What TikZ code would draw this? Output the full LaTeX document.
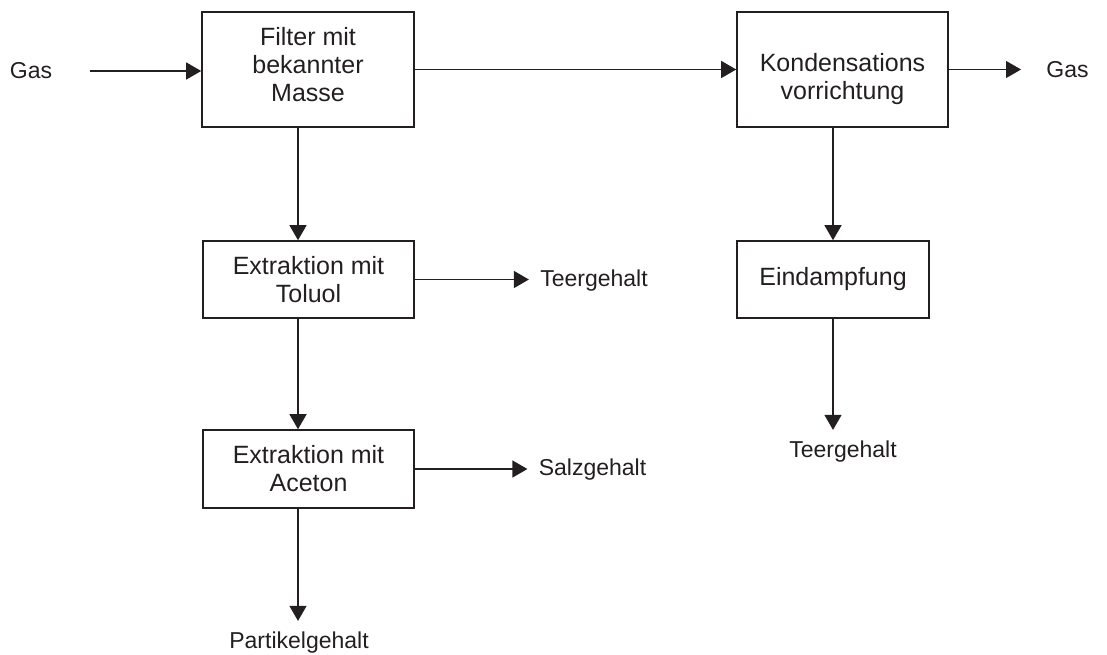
\documentclass[tikz,border=0pt]{standalone}
\usepackage{fontspec}
\setmainfont{Liberation Sans}
\usetikzlibrary{arrows.meta}
\definecolor{ink}{RGB}{35,31,32}

\begin{document}
\begin{tikzpicture}[x=0.5pt,y=-0.5pt,color=ink,
		box/.style={draw,line width=0.8pt,align=center,inner sep=0pt,
			font=\fontsize{12.5pt}{14pt}\selectfont},
		boxtext/.style={align=center,inner sep=0pt,
			font=\fontsize{12.5pt}{14pt}\selectfont},
		lbl/.style={inner sep=5.5pt,font=\fontsize{11.5pt}{14pt}\selectfont},
		arr/.style={line width=0.65pt,-{Triangle[length=7.5pt,width=8.5pt]}}]
	
	% picture frame
	\useasboundingbox (0,0) rectangle (1107,654);
	
	% process boxes
	\node[box,minimum width=106pt,minimum height=57.5pt,
		label={[boxtext,yshift=2.5pt]center:{Filter mit\\bekannter\\Masse}}] (filter) at (308,69.5) {};
	\node[box,minimum width=105.5pt,minimum height=57.5pt,
		label={[boxtext,yshift=-5pt]center:{Kondensations\\vorrichtung}}] (konden) at (842.5,69.5) {};
	\node[box,minimum width=105.5pt,minimum height=38.5pt] (toluol) at (308.5,279.5) {Extraktion mit\\Toluol};
	\node[box,minimum width=105.5pt,minimum height=39pt] (aceton) at (308.5,469) {Extraktion mit\\Aceton};
	\node[box,minimum width=96pt,minimum height=38.5pt] (eindampf) at (833,279.5) {Eindampfung};
	
	% in- and outputs
	\node[lbl] (gasin) at (31,71) {Gas};
	\node[lbl] (gasout) at (1067.5,70) {Gas};
	\node[lbl] (teerA) at (594,280.5) {Teergehalt};
	\node[lbl] (salz) at (592.5,470) {Salzgehalt};
	\node[lbl] (partikel) at (299,643) {Partikelgehalt};
	\node[lbl] (teerB) at (843,452) {Teergehalt};
	
	% columns of the vertical flows
	\coordinate (colL) at (298,0);
	\coordinate (colR) at (833,0);
	
	% gas line
	\draw[arr,shorten <=13.5pt] (gasin.east) -- (gasin.east -| filter.west);
	\draw[arr] (filter.east) -- (konden.west);
	\draw[arr,shorten >=7pt] (konden.east) -- (konden.east -| gasout.west);
	
	% left column
	\draw[arr] (filter.south -| colL) -- (toluol.north -| colL);
	\draw[arr] (toluol.south -| colL) -- (aceton.north -| colL);
	\draw[arr] (aceton.south -| colL) -- (partikel.north -| colL);
	\draw[arr] (toluol.east) -- (toluol.east -| teerA.west);
	\draw[arr] (aceton.east) -- (aceton.east -| salz.west);
	
	% right column
	\draw[arr] (konden.south -| colR) -- (eindampf.north -| colR);
	\draw[arr] (eindampf.south -| colR) -- (teerB.north -| colR);
	
\end{tikzpicture}
\end{document}
